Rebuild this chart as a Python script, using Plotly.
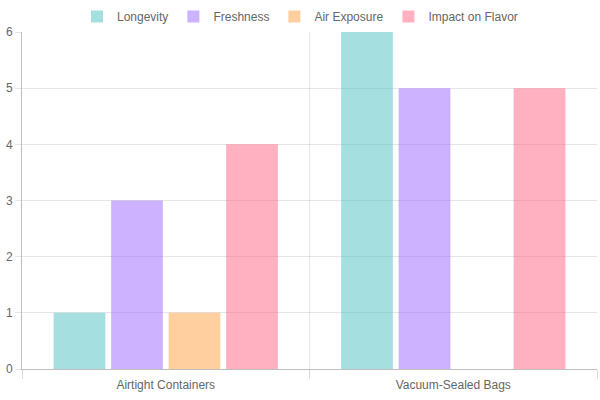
import plotly.graph_objects as go

categories = ["Airtight Containers", "Vacuum-Sealed Bags"]
series_names = ["Longevity", "Freshness", "Air Exposure", "Impact on Flavor"]
longevity = [1, 6]
freshness = [3, 5]
air_exposure = [1, 0]
impact_on_flavor = [4, 5]
y_ticks = [0, 1, 2, 3, 4, 5, 6]

values = [longevity, freshness, air_exposure, impact_on_flavor]
fills = ["rgba(75,192,192,0.5)", "rgba(153,102,255,0.5)",
         "rgba(255,159,64,0.5)", "rgba(255,99,132,0.5)"]

fig = go.Figure()
for name, vals, fc in zip(series_names, values, fills):
    fig.add_trace(go.Bar(x=categories, y=vals, name=name,
                         marker=dict(color=fc, line=dict(width=0))))

fig.update_layout(
    width=600, height=400,
    margin=dict(l=22, r=3, t=32, b=31, autoexpand=False),
    paper_bgcolor="white", plot_bgcolor="white",
    barmode="group", bargap=0.2, bargroupgap=0.1,
    font=dict(family="Liberation Sans, Arial, sans-serif", size=12, color="#666"),
    legend=dict(orientation="h", x=0.5, xanchor="center", xref="container",
                y=0.995, yanchor="top", yref="container",
                font=dict(size=12, color="#666"), itemwidth=30,
                traceorder="normal"),
    showlegend=True,
)
fig.update_xaxes(type="category", tickson="boundaries", showgrid=True,
                 gridcolor="rgba(0,0,0,0.1)", ticks="outside", ticklen=9,
                 tickcolor="rgba(0,0,0,0.15)", showline=True,
                 linecolor="rgba(0,0,0,0.25)", ticklabelstandoff=5,
                 tickfont=dict(size=12, color="#666"))
fig.update_yaxes(range=[0, 6], tickvals=y_ticks, showgrid=True,
                 gridcolor="rgba(0,0,0,0.1)", ticks="outside", ticklen=6,
                 tickcolor="rgba(0,0,0,0.1)", showline=True,
                 linecolor="rgba(0,0,0,0.25)", zeroline=False,
                 tickfont=dict(size=12, color="#666"))

fig.write_html("out.html")
